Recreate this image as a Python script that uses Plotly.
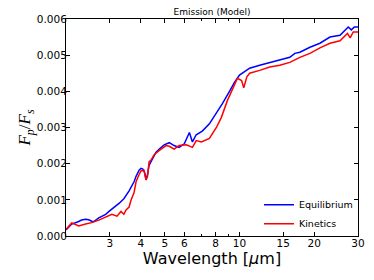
import plotly.graph_objects as go

wl_eq = [2.0, 2.11, 2.25, 2.31, 2.40, 2.47, 2.54, 2.59, 2.71, 2.89, 2.98, 3.06, 3.21, 3.27, 3.42,
         3.59, 3.76, 3.83, 3.94, 4.01, 4.08, 4.15, 4.20, 4.26, 4.32, 4.40, 4.53, 4.61, 4.74, 4.88,
         4.97, 5.21, 5.45, 5.71, 5.99, 6.28, 6.46, 6.69, 7.08, 7.56, 8.07, 8.53, 9.11, 9.54,
         10.0, 10.28, 10.67, 10.98, 12.05, 13.23, 14.52, 15.94, 16.7, 17.5, 19.21, 21.08, 23.13,
         25.39, 27.4, 28.2, 29.0, 30.0]
fp_eq = [0.00017, 0.00033, 0.00040, 0.00044, 0.00046, 0.00045, 0.00041, 0.00040, 0.00050, 0.00060,
         0.00068, 0.00074, 0.00085, 0.00090, 0.00103, 0.00125, 0.00150, 0.00165, 0.00182, 0.00187,
         0.00185, 0.00175, 0.00155, 0.00170, 0.00195, 0.00205, 0.00225, 0.00232, 0.00240, 0.00248,
         0.00252, 0.00258, 0.00250, 0.00245, 0.00255, 0.00286, 0.00260, 0.00280, 0.00290, 0.00310,
         0.00340, 0.00366, 0.00400, 0.00425, 0.00445, 0.00450, 0.00458, 0.00464, 0.00472, 0.00480,
         0.00486, 0.00494, 0.00505, 0.00508, 0.00522, 0.00533, 0.00550, 0.00555, 0.00578, 0.00570,
         0.00578, 0.00578]

wl_kin = [2.0, 2.11, 2.15, 2.25, 2.40, 2.54, 2.71, 2.89, 3.06, 3.21, 3.33, 3.42, 3.49, 3.59, 3.66,
          3.76, 3.83, 3.94, 4.01, 4.12, 4.20, 4.26, 4.32, 4.40, 4.53, 4.74, 5.06, 5.21, 5.45, 5.71,
          6.1, 6.46, 6.69, 7.02, 7.56, 8.07, 8.45, 8.94, 9.54, 9.81, 10.19, 10.4, 10.7, 10.98,
          12.05, 13.23, 14.52, 15.94, 17.5, 19.21, 21.08, 23.13, 25.39, 27.2, 27.9, 28.7, 30.0]
fp_kin = [0.00018, 0.00036, 0.00034, 0.00028, 0.00033, 0.00037, 0.00044, 0.00053, 0.00060, 0.00055,
          0.00068, 0.00060, 0.00072, 0.00080, 0.00100, 0.00120, 0.00150, 0.00170, 0.00180, 0.00182,
          0.00155, 0.00165, 0.00205, 0.00210, 0.00225, 0.00236, 0.00250, 0.00248, 0.00240, 0.00250,
          0.00252, 0.00245, 0.00264, 0.00260, 0.00270, 0.00300, 0.00328, 0.00375, 0.00420, 0.00436,
          0.00430, 0.00410, 0.00440, 0.00450, 0.00458, 0.00467, 0.00472, 0.00480, 0.00494, 0.00505,
          0.00520, 0.00533, 0.00540, 0.00560, 0.00548, 0.00564, 0.00564]

x_ticks = [3, 4, 5, 6, 8, 10, 15, 20, 30]
x_minor = [7, 9]
y_ticks = [0.000, 0.001, 0.002, 0.003, 0.004, 0.005, 0.006]

fig = go.Figure()
fig.add_trace(go.Scatter(x=wl_eq, y=fp_eq, mode="lines", name="Equilibrium",
                         line=dict(color="#0000ff", width=1.5)))
fig.add_trace(go.Scatter(x=wl_kin, y=fp_kin, mode="lines", name="Kinetics",
                         line=dict(color="#ff0000", width=1.5)))

# page body has an 8px margin: figure is shrunk so the plot lands where the reference has it
fig.update_layout(
    width=366, height=272,
    margin=dict(l=58, r=16, t=11, b=44, autoexpand=False),
    plot_bgcolor="white", paper_bgcolor="white",
    font=dict(family="DejaVu Sans", color="black"),
    title=dict(text="Emission (Model)", xref="paper", x=0.5, xanchor="center",
               y=0.985, yanchor="middle", font=dict(size=9)),
    showlegend=True,
    legend=dict(x=1.0, y=-0.01, xanchor="right", yanchor="bottom", bgcolor="rgba(0,0,0,0)",
                font=dict(size=9.5), tracegroupgap=0, itemwidth=30),
    xaxis=dict(type="log", range=[0.30103, 1.47712], tickvals=x_ticks,
               ticktext=[str(v) for v in x_ticks], automargin=False,
               ticks="inside", ticklen=4, tickcolor="black", showline=True, linecolor="black",
               linewidth=1, mirror="ticks", showgrid=False, zeroline=False,
               tickfont=dict(size=10.5), ticklabelstandoff=-3,
               minor=dict(tickvals=x_minor, ticks="inside", ticklen=2, tickcolor="black"),
               title=dict(text="Wavelength [<i>μ</i>m]", font=dict(size=16), standoff=2)),
    yaxis=dict(range=[0, 0.006], tickvals=y_ticks, tickformat=".3f", automargin=False,
               ticks="inside", ticklen=4, tickcolor="black", showline=True, linecolor="black",
               linewidth=1, mirror="ticks", showgrid=False, zeroline=False,
               tickfont=dict(size=10.5), ticklabelstandoff=-4,
               title=dict(text="<i>F</i><sub><i>p</i></sub>/<i>F</i><sub><i>s</i></sub>",
                          font=dict(size=17, family="Liberation Serif"), standoff=0)),
)

fig.write_html("out.html")
